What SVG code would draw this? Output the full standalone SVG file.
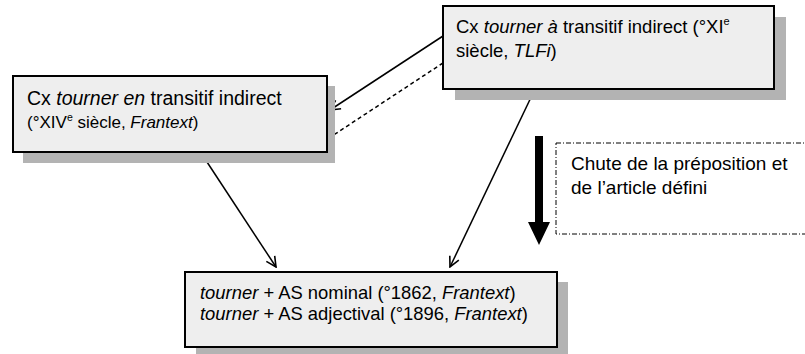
<svg xmlns="http://www.w3.org/2000/svg" width="805" height="354" viewBox="0 0 805 354">
<defs>
<style>
.box{fill:#eeeeee;stroke:#000;stroke-width:2}
.shadow{fill:#b3b3b3}
.t{font-family:"Liberation Sans",Arial,sans-serif;fill:#000}
.ln{stroke:#000;stroke-width:1.5;fill:none}
</style>
<marker id="v" viewBox="0 0 12 12" refX="11" refY="6" markerWidth="12" markerHeight="12" markerUnits="userSpaceOnUse" orient="auto">
<path d="M1,1 L11,6 L1,11" fill="none" stroke="#000" stroke-width="1.6"/>
</marker>
</defs>
<g id="connectors">
<line class="ln" x1="443" y1="36" x2="330" y2="110" marker-end="url(#v)"/>
<line class="ln" x1="443" y1="63" x2="329" y2="138" stroke-dasharray="4,3" stroke-width="1.2"/>
<line class="ln" x1="207" y1="162" x2="276" y2="267" marker-end="url(#v)"/>
<line class="ln" x1="535" y1="89" x2="450" y2="267" marker-end="url(#v)"/>
<polygon points="535,136 543,136 543,222 550,222 539,245 528,222 535,222" fill="#000"/>
</g>
<g id="node-tourner-a">
<rect class="shadow" x="455" y="17" width="331" height="83"/>
<rect class="box" x="443" y="6" width="331" height="83"/>
<text class="t" font-size="18.5" x="456" y="33">Cx <tspan font-style="italic">tourner à</tspan> transitif indirect (°XI<tspan font-size="11" dy="-8">e</tspan></text>
<text class="t" font-size="18.5" x="456" y="57">siècle, <tspan font-style="italic">TLFi</tspan>)</text>
</g>
<g id="node-tourner-en">
<rect class="shadow" x="23" y="86" width="312" height="77"/>
<rect class="box" x="13" y="76" width="314" height="76"/>
<text class="t" font-size="19.5" x="27" y="105">Cx <tspan font-style="italic">tourner en</tspan> transitif indirect</text>
<text class="t" font-size="17" x="27" y="128">(°XIV<tspan font-size="10.5" dy="-7">e</tspan><tspan dy="7"> siècle, </tspan><tspan font-style="italic">Frantext</tspan>)</text>
</g>
<g id="node-chute">
<rect x="556" y="143" width="260" height="91" fill="none" stroke="#000" stroke-width="1" stroke-dasharray="5,2,1,2"/>
<text class="t" font-size="19" x="571" y="170">Chute de la préposition et</text>
<text class="t" font-size="19" x="571" y="194">de l’article défini</text>
</g>
<g id="node-tourner-as">
<rect class="shadow" x="196" y="282" width="372" height="76"/>
<rect class="box" x="185" y="272" width="372" height="75"/>
<text class="t" font-size="18.4" x="200" y="299"><tspan font-style="italic">tourner</tspan> + AS nominal (°1862, <tspan font-style="italic">Frantext</tspan>)</text>
<text class="t" font-size="18.4" x="200" y="320"><tspan font-style="italic">tourner</tspan> + AS adjectival (°1896, <tspan font-style="italic">Frantext</tspan>)</text>
</g>
</svg>
